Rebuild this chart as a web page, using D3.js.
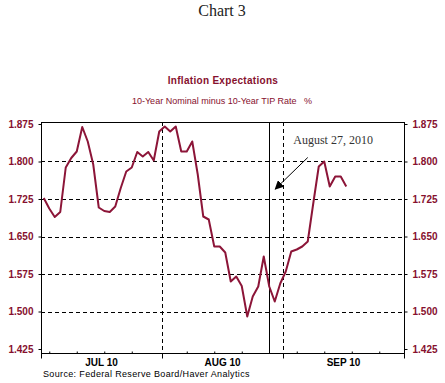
<!DOCTYPE html>
<html>
<head>
<meta charset="utf-8">
<script src="https://cdn.jsdelivr.net/npm/d3@7"></script>
<style>
  body { margin: 0; background: #fff; }
  svg { display: block; }
</style>
</head>
<body>
<div id="chart"></div>
<script>
// one value per business day, Jul 1 .. Sep 16 2010
const julValues = [1.727, 1.706, 1.689, 1.699, 1.788, 1.807, 1.820, 1.869, 1.840, 1.794, 1.708,
                   1.701, 1.699, 1.710, 1.747, 1.780, 1.788, 1.819, 1.810, 1.819, 1.802, 1.860];
const augValues = [1.870, 1.860, 1.870, 1.820, 1.820, 1.840, 1.774, 1.690, 1.684, 1.630, 1.630,
                   1.618, 1.560, 1.570, 1.551, 1.490, 1.530, 1.550, 1.610, 1.550, 1.520, 1.556];
const sepValues = [1.580, 1.620, 1.624, 1.630, 1.640, 1.716, 1.790, 1.800, 1.750, 1.770, 1.770, 1.750];

const months = ['JUL 10', 'AUG 10', 'SEP 10'];
const daysPerMonth = [22, 22, 22];
const yTicks = [1.425, 1.500, 1.575, 1.650, 1.725, 1.800, 1.875];
const gridTicks = [1.500, 1.575, 1.650, 1.725, 1.800];
const eventIndex = 41; // Aug 27, 2010
const eventLabel = 'August 27, 2010';

const values = julValues.concat(augValues, sepValues);
const lineColor = '#8c1538';
const labelColor = '#86102e';

const width = 445, height = 383;
const svg = d3.select('#chart').append('svg')
    .attr('width', width)
    .attr('height', height);

const totalDays = d3.sum(daysPerMonth);
const x = d3.scaleLinear()
    .domain([-0.5, totalDays - 0.5])
    .range([41, 404]);

const y = d3.scaleLinear()
    .domain([1.417, 1.879])
    .range([353, 122]);

const [x0, x1] = x.range();
const [yb, yt] = y.range();

// titles
svg.append('text')
    .attr('x', 222).attr('y', 16)
    .attr('text-anchor', 'middle')
    .style('font-family', '"Liberation Serif", "Times New Roman", serif')
    .style('font-size', '16px')
    .attr('fill', '#222')
    .text('Chart 3');

svg.append('text')
    .attr('x', 223).attr('y', 84)
    .attr('text-anchor', 'middle')
    .style('font-family', '"Liberation Sans", Arial, sans-serif')
    .style('font-size', '10px')
    .style('font-weight', 'bold')
    .style('letter-spacing', '0.3px')
    .attr('fill', labelColor)
    .text('Inflation Expectations');

svg.append('text')
    .attr('x', 222).attr('y', 104)
    .attr('text-anchor', 'middle')
    .style('font-family', '"Liberation Sans", Arial, sans-serif')
    .style('font-size', '9px')
    .attr('fill', labelColor)
    .attr('xml:space', 'preserve')
    .text('10-Year Nominal minus 10-Year TIP Rate   %');

// month boundaries
const bounds = [];
let acc = 0;
daysPerMonth.forEach(n => { bounds.push(acc); acc += n; });
bounds.push(acc);

const g = svg.append('g');

// horizontal dashed grid
g.selectAll('.hgrid')
    .data(gridTicks)
    .enter().append('line')
    .attr('x1', x0).attr('x2', x1)
    .attr('y1', d => Math.round(y(d)) + 0.5)
    .attr('y2', d => Math.round(y(d)) + 0.5)
    .attr('stroke', '#000')
    .attr('stroke-dasharray', '4,3');

// vertical dashed month lines
g.selectAll('.vgrid')
    .data(bounds.slice(1, -1))
    .enter().append('line')
    .attr('x1', d => Math.round(x(d - 0.5)) + 0.5)
    .attr('x2', d => Math.round(x(d - 0.5)) + 0.5)
    .attr('y1', yt).attr('y2', yb)
    .attr('stroke', '#000')
    .attr('stroke-dasharray', '4,3');

// event line
g.append('line')
    .attr('x1', Math.round(x(eventIndex)) + 0.5)
    .attr('x2', Math.round(x(eventIndex)) + 0.5)
    .attr('y1', yt).attr('y2', yb)
    .attr('stroke', '#000');

// data line
const line = d3.line()
    .x((d, i) => x(i))
    .y(d => y(d));

g.append('path')
    .datum(values)
    .attr('fill', 'none')
    .attr('stroke', lineColor)
    .attr('stroke-width', 2)
    .attr('stroke-linejoin', 'round')
    .attr('d', line);

// frame
g.append('rect')
    .attr('x', x0 + 0.5).attr('y', yt + 0.5)
    .attr('width', x1 - x0).attr('height', yb - yt)
    .attr('fill', 'none')
    .attr('stroke', '#000');

// y axes
const tickFont = g => g.selectAll('text')
    .style('font-family', '"Liberation Sans", Arial, sans-serif')
    .style('font-size', '10px')
    .style('font-weight', 'bold')
    .attr('fill', labelColor);

svg.append('g')
    .attr('transform', `translate(${x0 + 0.5},0)`)
    .call(d3.axisLeft(y).tickValues(yTicks).tickFormat(d3.format('.3f')).tickSize(3).tickPadding(5))
    .call(g => g.select('.domain').remove())
    .call(tickFont);

svg.append('g')
    .attr('transform', `translate(${x1 + 0.5},0)`)
    .call(d3.axisRight(y).tickValues(yTicks).tickFormat(d3.format('.3f')).tickSize(3).tickPadding(5))
    .call(g => g.select('.domain').remove())
    .call(tickFont);

// x axis: weekly minor ticks (Fridays), month boundary ticks, month labels
const fridays = d3.range(1, totalDays, 5).filter(i => bounds.every(b => Math.abs(i + 0.5 - b) > 1) && i !== eventIndex);
svg.append('g')
    .attr('transform', `translate(0,${yb + 0.5})`)
    .call(d3.axisBottom(x).tickValues(fridays).tickSize(-2).tickFormat(''))
    .call(g => g.select('.domain').remove());

svg.append('g')
    .attr('transform', `translate(0,${yb + 0.5})`)
    .call(d3.axisBottom(x).tickValues(bounds.map(b => b - 0.5)).tickSize(5).tickFormat(''))
    .call(g => g.select('.domain').remove());

svg.selectAll('.month')
    .data(months)
    .enter().append('text')
    .attr('x', (d, i) => x((bounds[i] + bounds[i + 1]) / 2 - 0.5))
    .attr('y', 366)
    .attr('text-anchor', 'middle')
    .style('font-family', '"Liberation Sans", Arial, sans-serif')
    .style('font-size', '10px')
    .style('font-weight', 'bold')
    .attr('fill', '#000')
    .text(d => d);

svg.append('text')
    .attr('x', 43).attr('y', 377)
    .style('font-family', '"Liberation Sans", Arial, sans-serif')
    .style('font-size', '9px')
    .style('letter-spacing', '0.35px')
    .attr('fill', '#000')
    .text('Source: Federal Reserve Board/Haver Analytics');

// annotation
const tipX = x(eventIndex) + 6, tipY = y(1.745);
const tailX = x(eventIndex + 7), tailY = y(1.808);

svg.append('defs').append('marker')
    .attr('id', 'arrow')
    .attr('viewBox', '0 0 10 10')
    .attr('refX', 9).attr('refY', 5)
    .attr('markerWidth', 9).attr('markerHeight', 9)
    .attr('markerUnits', 'userSpaceOnUse')
    .attr('orient', 'auto')
    .append('path')
    .attr('d', 'M0,0L10,5L0,10z')
    .attr('fill', '#000');

svg.append('line')
    .attr('x1', tailX).attr('y1', tailY)
    .attr('x2', tipX).attr('y2', tipY)
    .attr('stroke', '#000')
    .attr('stroke-width', 1)
    .attr('marker-end', 'url(#arrow)');

svg.append('text')
    .attr('x', x(eventIndex) + 24).attr('y', y(1.835))
    .style('font-family', '"Liberation Serif", "Times New Roman", serif')
    .style('font-size', '12px')
    .attr('fill', '#333')
    .text(eventLabel);
</script>
</body>
</html>
